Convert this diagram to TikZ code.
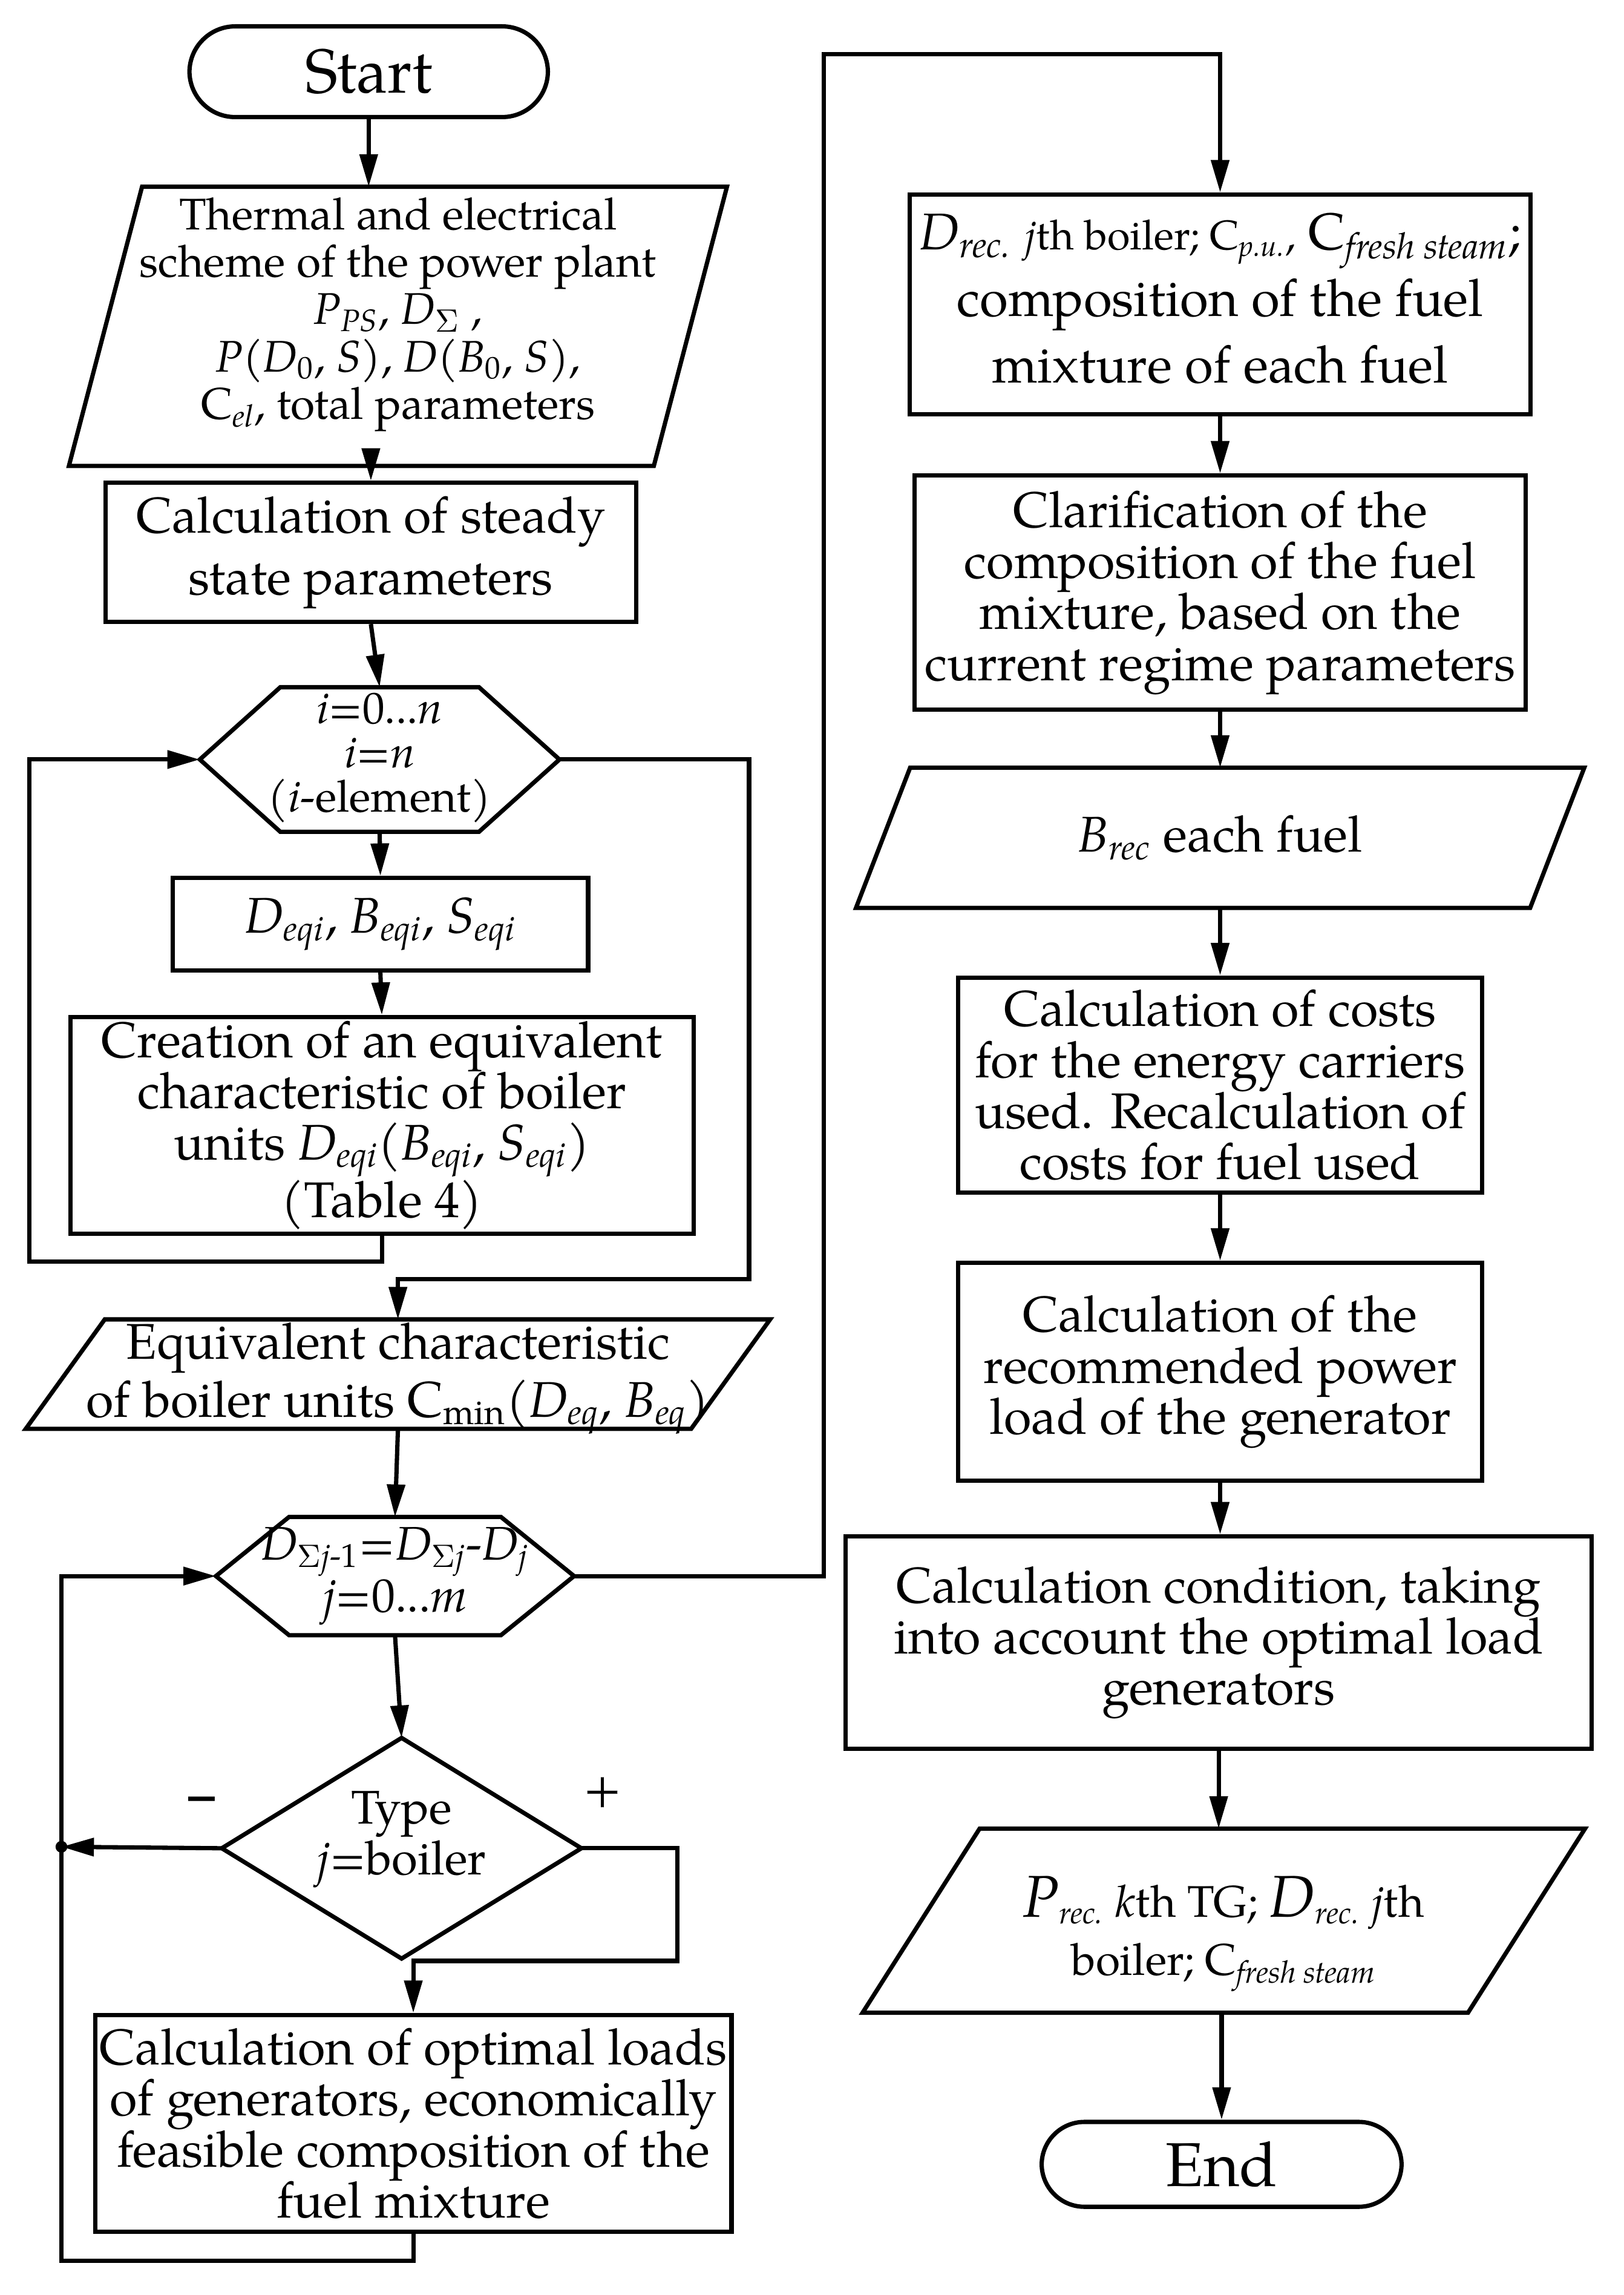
\documentclass[tikz,border=0pt]{standalone}
\usepackage{fontspec}
\setmainfont{TeX Gyre Pagella}
\usetikzlibrary{arrows.meta}
\newcommand\U{0.4955pt}
\newcommand\fsz[2]{\fontsize{#1}{#2}\selectfont}
\newcommand\lo[1]{\textsubscript{#1}}
\newcommand\parag[2]{\draw[ln] ([xshift=#2*\U]#1.north west) -- ([xshift=#2*\U]#1.north east) -- ([xshift=-#2*\U]#1.south east) -- ([xshift=-#2*\U]#1.south west) -- cycle;}
\newcommand\hexa[2]{\draw[ln] (#1.west) -- ([xshift=#2*\U]#1.north west) -- ([xshift=-#2*\U]#1.north east) -- (#1.east) -- ([xshift=-#2*\U]#1.south east) -- ([xshift=#2*\U]#1.south west) -- cycle;}
\begin{document}
\begin{tikzpicture}[x=0.4955pt,y=-0.4955pt,
  ln/.style={line width=1.45pt, line join=miter},
  arr/.style={line width=1.45pt, -{Triangle[length=11pt,width=6pt]}},
  body/.style={inner sep=0pt, align=center, font=\fsz{17}{17.3}},
  box/.style={body, draw, line width=1.45pt, rectangle},
  ghost/.style={rectangle, inner sep=0pt},
  term/.style={draw, line width=1.45pt, rectangle, font=\fsz{21}{24}, inner sep=0pt}]
\fill[white] (0,0) rectangle (1110,1568.3);
\useasboundingbox (0,0) rectangle (1110,1568.3);

% ---------------- left column
\node[term, rounded corners=15.5pt, minimum width=245*\U, minimum height=62*\U] (start) at (252,49) {Start};

\node[ghost, minimum width=399*\U, minimum height=190*\U] (therm) at (272,223) {};
\parag{therm}{25}
\node[body, font=\fsz{15}{16}] (thermtxt) at ([yshift=4pt]therm.center)
  {Thermal and electrical\\ scheme of the power plant\\
   \textit{P}\lo{\textit{PS}}, \textit{D}\lo{$\Sigma$} ,\\
   \textit{P}(\textit{D}\lo{0}, \textit{S}), \textit{D}(\textit{B}\lo{0}, \textit{S}),\\
   C\lo{\textit{el}}, total parameters};

\node[box, minimum width=363*\U, minimum height=95*\U, font=\fsz{17}{21}] (calc1) at (253.5,377.5)
  {Calculation of steady\\ state parameters};

\node[ghost, minimum width=245*\U, minimum height=98*\U] (hex1) at (259.5,519) {};
\hexa{hex1}{55}
\node[body, font=\fsz{15}{15}] (hex1txt) at ([yshift=0.5pt]hex1.center)
  {\textit{i}=0...\textit{n}\\ \textit{i}=\textit{n}\\ (\textit{i}-element)};

\node[box, minimum width=284*\U, minimum height=63*\U] (deqi) at (260,631.5)
  {\textit{D}\lo{\textit{eqi}}, \textit{B}\lo{\textit{eqi}}, \textit{S}\lo{\textit{eqi}}};

\node[box, minimum width=426*\U, minimum height=148*\U] (creat) at (261,769)
  {Creation of an equivalent\\ characteristic of boiler\\
   units \textit{D}\lo{\textit{eqi}}(\textit{B}\lo{\textit{eqi}}, \textit{S}\lo{\textit{eqi}})\\ (Table 4)};

\node[ghost, minimum width=454*\U, minimum height=74*\U] (equiv) at (272,939) {};
\parag{equiv}{27}
\node[body, font=\fsz{17}{19.5}] (equivtxt) at ([yshift=-1.5pt]equiv.center)
  {Equivalent characteristic\\ of boiler units C\lo{min}(\textit{D}\lo{\textit{eq}}, \textit{B}\lo{\textit{eq}})};

\node[ghost, minimum width=244*\U, minimum height=80*\U] (hex2) at (270,1077) {};
\hexa{hex2}{50}
\node[body, font=\fsz{16}{15.5}] (hex2txt) at (hex2.center)
  {\textit{D}\lo{$\Sigma$\textit{j}-1}=\textit{D}\lo{$\Sigma$\textit{j}}-\textit{D}\lo{\textit{j}}\\ \textit{j}=0...\textit{m}};

\node[ghost, minimum width=245*\U, minimum height=150*\U] (diam) at (274.5,1263) {};
\draw[ln] (diam.north) -- (diam.east) -- (diam.south) -- (diam.west) -- cycle;
\node[body, font=\fsz{16}{15}] (diamtxt) at ([yshift=3pt]diam.center) {Type\\ \textit{j}=boiler};

\node[body, font=\fsz{18}{18}\bfseries] (minus) at (138,1233) {--};
\node[body, font=\fsz{17}{17}] (plus) at (412,1225) {+};

\node[box, minimum width=435*\U, minimum height=148*\U] (optim) at (282.5,1451)
  {Calculation of optimal loads\\ of generators, economically\\ feasible composition of the\\ fuel mixture};

% ---------------- right column
\node[ghost, draw, line width=1.45pt, minimum width=424*\U, minimum height=150*\U] (drec) at (834,208) {};
\node[body, font=\fsz{17.5}{22.5}] (drectxt) at ([yshift=2pt]drec.center)
  {\textit{D}\lo{\textit{rec.}} {\fsz{14}{22.5}\textit{j}th boiler; C\lo{\textit{p.u.}},} C\lo{\textit{fresh steam}};\\
   composition of the fuel\\ mixture of each fuel};

\node[box, minimum width=418*\U, minimum height=160*\U] (clar) at (834,405)
  {Clarification of the\\ composition of the fuel\\ mixture, based on the\\ current regime parameters};

\node[ghost, minimum width=460*\U, minimum height=95*\U] (brec) at (834,572.5) {};
\parag{brec}{18.5}
\node[body] (brectxt) at (brec.center) {\textit{B}\lo{\textit{rec}} each fuel};

\node[box, minimum width=358*\U, minimum height=147*\U] (costs) at (834,741.5)
  {Calculation of costs\\ for the energy carriers\\ used. Recalculation of\\ costs for fuel used};

\node[box, minimum width=358*\U, minimum height=149*\U] (recom) at (834,937.5)
  {Calculation of the\\ recommended power\\ load of the generator};

\node[box, minimum width=510*\U, minimum height=145*\U] (cond) at (833,1122.5)
  {Calculation condition, taking\\ into account the optimal load\\ generators};

\node[ghost, minimum width=413*\U, minimum height=125*\U] (prec) at (836.5,1312.5) {};
\parag{prec}{40}
\node[body, font=\fsz{15}{19.5}] (prectxt) at ([yshift=-4.5pt]prec.center)
  {{\fsz{20}{19.5}\textit{P}}\lo{\textit{rec.}} \textit{k}th TG; {\fsz{20}{19.5}\textit{D}}\lo{\textit{rec.}} \textit{j}th\\ boiler; C\lo{\textit{fresh steam}}};

\node[term, rounded corners=14.5pt, minimum width=246*\U, minimum height=58*\U] (end) at (835,1479) {End};

% ---------------- connectors
\coordinate (lp1) at (20,862);
\coordinate (rp1) at (512,874);
\coordinate (dot) at (42,1262);
\coordinate (rp2) at (463,1340);
\coordinate (lp2) at (42,1545);
\coordinate (tp1) at (563,37);

\draw[arr] (start.south) -- (start.south |- therm.north);
\draw[arr] (calc1.north |- therm.south) -- (calc1.north);
\draw[arr] (calc1.south) -- (hex1.north);
\draw[arr] (hex1.south) -- (deqi.north);
\draw[arr] (deqi.south) -- (creat.north);
\draw[arr] (creat.south) |- (lp1) |- (hex1.west);
\draw[arr] (hex1.east) -| (rp1) -| (equiv.north);
\draw[arr] (equiv.south) -- (hex2.north);
\draw[arr] (hex2.south) -- (diam.north);
\draw[arr] (diam.west) -- (dot);
\fill (dot) circle (2pt);
\draw[arr] (diam.east) -| (rp2) -| (optim.north);
\draw[arr] (optim.south) |- (lp2) |- (hex2.west);
\draw[arr] (hex2.east) -| (tp1) -| (drec.north);

\draw[arr] (drec.south) -- (drec.south |- clar.north);
\draw[arr] (clar.south) -- (clar.south |- brec.north);
\draw[arr] (brec.south) -- (brec.south |- costs.north);
\draw[arr] (costs.south) -- (costs.south |- recom.north);
\draw[arr] (recom.south) -- (recom.south |- cond.north);
\draw[arr] (cond.south) -- (cond.south |- prec.north);
\draw[arr] (end.north |- prec.south) -- (end.north);
\end{tikzpicture}
\end{document}
